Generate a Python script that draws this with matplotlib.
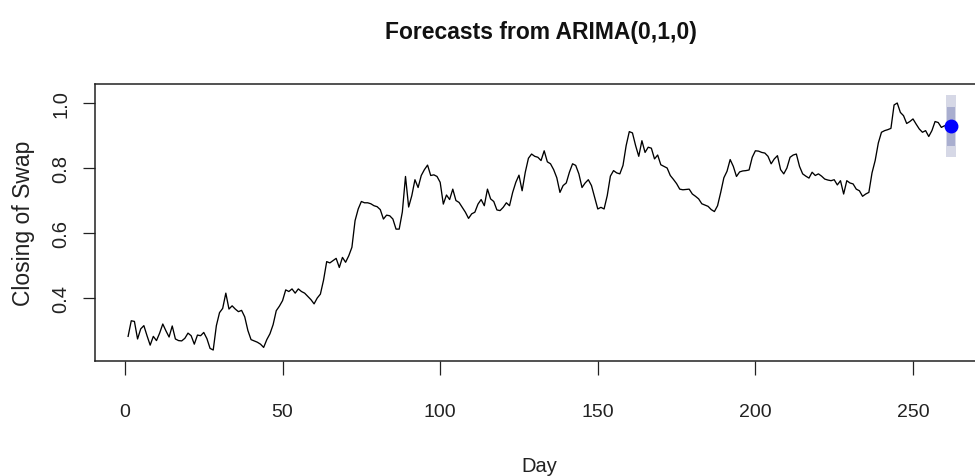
import numpy as np
import matplotlib
matplotlib.use("Agg")
import matplotlib.pyplot as plt
from matplotlib import font_manager

# ---- data ----
closing_a = [0.282, 0.330, 0.328, 0.274, 0.305, 0.315, 0.284, 0.255, 0.282, 0.269,
             0.292, 0.320, 0.299, 0.280, 0.314, 0.274, 0.269, 0.268, 0.276, 0.292,
             0.284, 0.258, 0.286, 0.284, 0.294, 0.275, 0.245, 0.240, 0.315, 0.355,
             0.368, 0.415, 0.366, 0.376, 0.366, 0.358, 0.362, 0.342, 0.300, 0.272,
             0.268, 0.264, 0.258, 0.248, 0.272, 0.290, 0.318, 0.361, 0.375, 0.392,
             0.425, 0.420, 0.428, 0.415, 0.428, 0.420, 0.415, 0.405, 0.395, 0.382,
             0.400, 0.412, 0.455, 0.512, 0.508, 0.515, 0.522, 0.494, 0.525, 0.510,
             0.530, 0.556, 0.638, 0.674, 0.697, 0.693, 0.693, 0.690, 0.684, 0.681,
             0.672, 0.643, 0.655, 0.653, 0.643, 0.612, 0.612, 0.665, 0.774, 0.680]
closing_b = [0.715, 0.764, 0.740, 0.777, 0.795, 0.809, 0.777, 0.779, 0.774, 0.756,
             0.689, 0.717, 0.703, 0.735, 0.700, 0.694, 0.679, 0.664, 0.645, 0.659,
             0.664, 0.689, 0.703, 0.684, 0.735, 0.705, 0.697, 0.671, 0.669, 0.679,
             0.693, 0.684, 0.725, 0.756, 0.778, 0.730, 0.787, 0.830, 0.843, 0.836,
             0.833, 0.823, 0.853, 0.819, 0.813, 0.795, 0.770, 0.725, 0.746, 0.754,
             0.787, 0.813, 0.808, 0.782, 0.740, 0.754, 0.764, 0.746, 0.710, 0.674,
             0.679, 0.674, 0.715, 0.775, 0.792, 0.785, 0.782, 0.808, 0.869, 0.912,
             0.908, 0.869, 0.836, 0.884, 0.848, 0.864, 0.861, 0.828, 0.840, 0.810,
             0.805, 0.800, 0.777, 0.765, 0.752, 0.735, 0.733, 0.734, 0.735, 0.720]
closing_c = [0.713, 0.705, 0.690, 0.686, 0.682, 0.672, 0.666, 0.684, 0.725, 0.770,
             0.790, 0.826, 0.805, 0.774, 0.788, 0.791, 0.792, 0.794, 0.833, 0.853,
             0.852, 0.848, 0.846, 0.836, 0.813, 0.828, 0.838, 0.795, 0.782, 0.800,
             0.833, 0.840, 0.843, 0.805, 0.782, 0.775, 0.769, 0.787, 0.777, 0.782,
             0.775, 0.766, 0.763, 0.761, 0.764, 0.748, 0.761, 0.720, 0.761, 0.754,
             0.751, 0.735, 0.730, 0.713, 0.720, 0.725, 0.785, 0.823, 0.877, 0.910,
             0.915, 0.918, 0.922, 0.994, 1.000, 0.971, 0.961, 0.937, 0.943, 0.951,
             0.935, 0.920, 0.910, 0.915, 0.897, 0.915, 0.943, 0.940, 0.925, 0.930,
             0.928]
closing = closing_a + closing_b + closing_c
days = np.arange(1, len(closing) + 1)

fc_day = [262]
fc_mean = [0.928]
lo80, hi80 = [0.869], [0.987]
lo95, hi95 = [0.833], [1.025]

x_ticks = [0, 50, 100, 150, 200, 250]
y_ticks = [0.4, 0.6, 0.8, 1.0]

# ---- fonts ----
installed = {f.name for f in font_manager.fontManager.ttflist}
narrow = next((n for n in ["Liberation Sans Narrow", "DejaVu Sans Condensed",
                           "Liberation Sans"] if n in installed), "DejaVu Sans")
regular = "Liberation Sans" if "Liberation Sans" in installed else "DejaVu Sans"
is_narrow = narrow != regular

# ---- figure ----
W, H = 975, 477
fig = plt.figure(figsize=(W / 100, H / 100), dpi=100)
ax = fig.add_axes([95.2 / W, 1 - 362 / H, 888.4 / W, (362 - 85) / H])

# forecast intervals
ax.bar(fc_day, np.array(hi95) - np.array(lo95), bottom=lo95, width=3.2,
       color="#D6D8E6", linewidth=0, zorder=2)
ax.bar(fc_day, np.array(hi80) - np.array(lo80), bottom=lo80, width=2.4,
       color="#A9AECF", linewidth=0, zorder=3)

ax.plot(days, closing, color="black", linewidth=0.95, zorder=4)
ax.plot(fc_day, fc_mean, "o", color="#0000FF", markersize=9, zorder=5)

ax.set_xlim(-9.44, 272.4)
ax.set_ylim(0.2062, 1.0585)

xs = 15 if is_narrow else 14
ax.set_xticks(x_ticks)
ax.set_xticklabels([str(t) for t in x_ticks], fontfamily=narrow, fontsize=xs)
ax.set_yticks(y_ticks)
ax.set_yticklabels([f"{t:.1f}" for t in y_ticks], fontfamily=regular,
                   fontsize=14.5, rotation=90, va="center")
ax.tick_params(axis="x", length=10, width=0.9, pad=20, colors="#222222")
ax.tick_params(axis="y", length=9, width=0.9, pad=9, colors="#222222")

for s in ["left", "bottom", "top", "right"]:
    ax.spines[s].set_linewidth(1.1)
    ax.spines[s].set_color("#222222")

ax.set_xlabel("Day", fontfamily=narrow, fontsize=xs + 0.5, labelpad=26,
              color="#222222")
ax.set_ylabel("Closing of Swap", fontfamily=regular, fontsize=16.5, labelpad=12,
              color="#222222")
fig.text(541 / W, 1 - 32 / H, "Forecasts from ARIMA(0,1,0)", fontfamily=narrow,
         fontweight="bold", fontsize=19 if is_narrow else 16.5,
         ha="center", va="center", color="#111111")

fig.savefig("out.png", dpi=100)
